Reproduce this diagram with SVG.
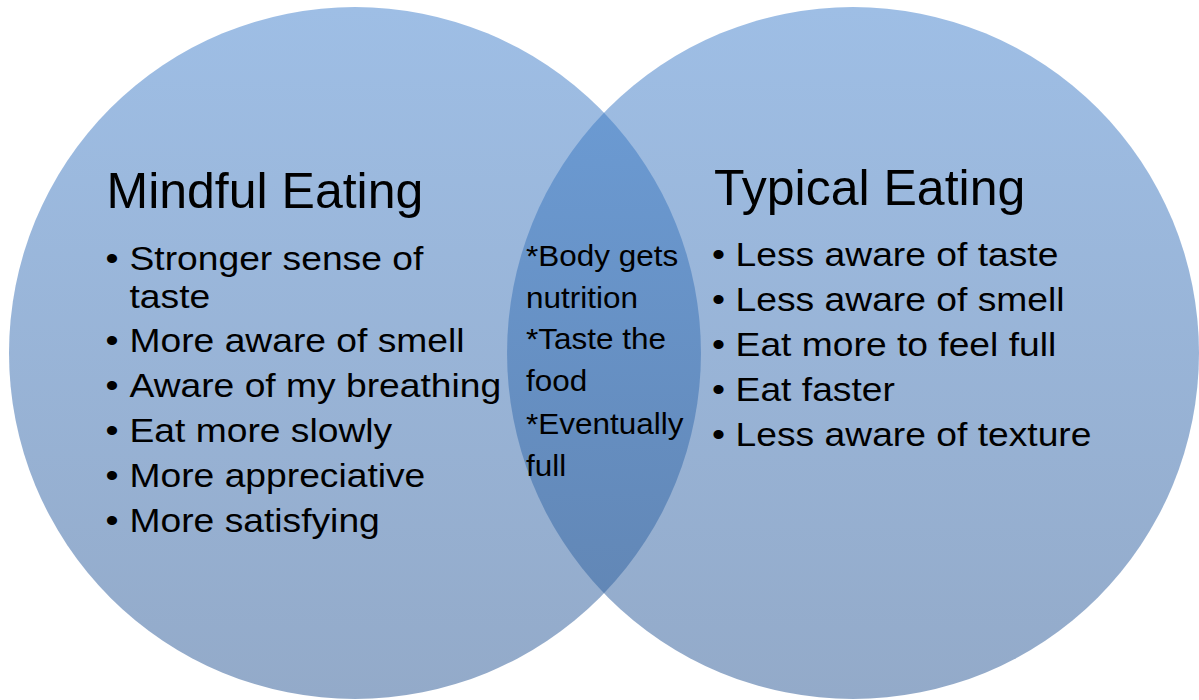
<svg xmlns="http://www.w3.org/2000/svg" width="1199" height="700" viewBox="0 0 1199 700">
<defs>
<linearGradient id="gc" gradientUnits="userSpaceOnUse" x1="0" y1="7" x2="0" y2="699">
<stop offset="0" stop-color="#9EBEE5"/>
<stop offset="1" stop-color="#93AAC9"/>
</linearGradient>
<linearGradient id="gl" gradientUnits="userSpaceOnUse" x1="0" y1="7" x2="0" y2="699">
<stop offset="0" stop-color="#6D9ED8"/>
<stop offset="1" stop-color="#6083B0"/>
</linearGradient>
<style>
text{font-family:"Liberation Sans",Arial,sans-serif;fill:#000}
.t{font-size:50px}
.b{font-size:34px}
.m{font-size:29px}
</style>
</defs>
<g id="circle-mindful"><circle cx="355" cy="353" r="346" fill="url(#gc)"/></g>
<g id="circle-typical"><circle cx="853" cy="353" r="346" fill="url(#gc)"/></g>
<g id="overlap"><path d="M604 112.8 A346 346 0 0 1 604 593.2 A346 346 0 0 1 604 112.8 Z" fill="url(#gl)"/></g>
<g id="connectors"/>
<g id="mindful-text">
<text class="t" x="106.5" y="208">Mindful Eating</text>
<g transform="translate(129.5 0) scale(1.095 1)">
<text class="b" x="-21.9" y="270">•</text><text class="b" x="0" y="270">Stronger sense of</text>
<text class="b" x="0" y="308">taste</text>
<text class="b" x="-21.9" y="352">•</text><text class="b" x="0" y="352">More aware of smell</text>
<text class="b" x="-21.9" y="397">•</text><text class="b" x="0" y="397">Aware of my breathing</text>
<text class="b" x="-21.9" y="442">•</text><text class="b" x="0" y="442">Eat more slowly</text>
<text class="b" x="-21.9" y="487">•</text><text class="b" x="0" y="487">More appreciative</text>
<text class="b" x="-21.9" y="532">•</text><text class="b" x="0" y="532">More satisfying</text>
</g>
</g>
<g id="typical-text">
<text class="t" x="714" y="205">Typical Eating</text>
<g transform="translate(735.6 0) scale(1.095 1)">
<text class="b" x="-21.5" y="266">•</text><text class="b" x="0" y="266">Less aware of taste</text>
<text class="b" x="-21.5" y="311">•</text><text class="b" x="0" y="311">Less aware of smell</text>
<text class="b" x="-21.5" y="356.5">•</text><text class="b" x="0" y="356.5">Eat more to feel full</text>
<text class="b" x="-21.5" y="401.5">•</text><text class="b" x="0" y="401.5">Eat faster</text>
<text class="b" x="-21.5" y="446">•</text><text class="b" x="0" y="446">Less aware of texture</text>
</g>
</g>
<g id="overlap-text" transform="translate(526 0) scale(1.085 1)">
<text class="m" x="0" y="266">*Body gets</text>
<text class="m" x="0" y="308">nutrition</text>
<text class="m" x="0" y="349.5">*Taste the</text>
<text class="m" x="0" y="391.5">food</text>
<text class="m" x="0" y="434">*Eventually</text>
<text class="m" x="0" y="476.5">full</text>
</g>
</svg>
